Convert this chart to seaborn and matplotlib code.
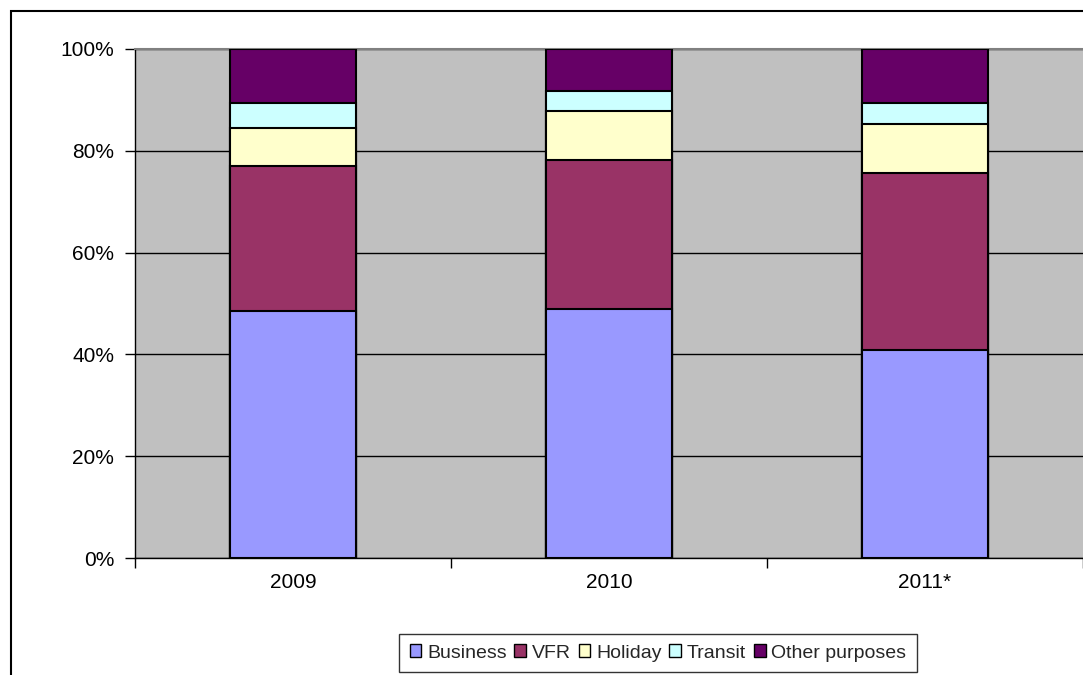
import numpy as np
import pandas as pd
import seaborn as sns
import matplotlib.pyplot as plt
from matplotlib.patches import Patch, Rectangle
from matplotlib.ticker import PercentFormatter, FixedLocator

# Data (shares of visitors by purpose)
years = ["2009", "2010", "2011*"]
purposes = ["Business", "VFR", "Holiday", "Transit", "Other purposes"]
business = [48.5, 48.9, 40.9]
vfr = [28.5, 29.2, 34.8]
holiday = [7.4, 9.8, 9.6]
transit = [4.9, 3.9, 4.0]
other = [10.7, 8.2, 10.7]

colors = ["#9999FF", "#993366", "#FFFFCC", "#CCFFFF", "#660066"]

df = pd.DataFrame(
    {"Business": business, "VFR": vfr, "Holiday": holiday,
     "Transit": transit, "Other purposes": other},
    index=years,
)
shares = df.div(df.sum(axis=1), axis=0)
cum = shares.cumsum(axis=1)

sns.set_style("white")
plt.rcParams["font.family"] = ["Liberation Sans", "DejaVu Sans"]

fig = plt.figure(figsize=(10.83, 6.75), dpi=100)
ax = fig.add_axes([135 / 1083, 1 - 558 / 675, 1 - 135 / 1083, (558 - 49) / 675])
ax.set_facecolor("#C0C0C0")

# stacked bars: draw cumulative totals from the top segment down
for col, color in reversed(list(zip(purposes, colors))):
    sns.barplot(x=cum.index, y=cum[col].values, color=color, width=0.4,
                edgecolor="black", linewidth=1.5, saturation=1, ax=ax, zorder=3)

ax.set_ylim(0, 1)
ax.set_xlim(-0.5, 2.5)
ax.yaxis.set_major_locator(FixedLocator(np.arange(0, 1.01, 0.2)))
ax.yaxis.set_major_formatter(PercentFormatter(1.0, decimals=0))
ax.yaxis.grid(True, color="black", linewidth=1, zorder=1)
ax.set_axisbelow(True)

ax.xaxis.set_minor_locator(FixedLocator([-0.5, 0.5, 1.5, 2.5]))
ax.tick_params(axis="x", which="major", bottom=True, length=0, pad=11,
               labelsize=15, labelcolor="black")
ax.tick_params(axis="x", which="minor", bottom=True, length=7, width=1,
               color="black", direction="out")
ax.tick_params(axis="y", left=True, length=7, width=1, color="black",
               direction="out", pad=8, labelsize=15, labelcolor="black")
ax.set_xlabel("")
ax.set_ylabel("")

for s in ["left", "bottom"]:
    ax.spines[s].set_color("black")
    ax.spines[s].set_linewidth(1)
ax.spines["top"].set_color("#808080")
ax.spines["top"].set_linewidth(1.5)
ax.spines["right"].set_visible(False)

handles = [Patch(facecolor=c, edgecolor="black", linewidth=1) for c in colors]
leg = fig.legend(handles, purposes, loc="center", bbox_to_anchor=(658 / 1083, 1 - 653 / 675),
                 ncol=5, frameon=True, fancybox=False, fontsize=14,
                 handlelength=0.6, handleheight=0.6, handletextpad=0.3,
                 columnspacing=0.4, borderpad=0.55, borderaxespad=0)
leg.get_frame().set_edgecolor("black")
leg.get_frame().set_linewidth(1)

# outer chart frame (cut off at right and bottom)
fig.patches.append(Rectangle((11 / 1083, -0.1), 1.2, 1.1 - 11 / 675,
                             transform=fig.transFigure, fill=False,
                             edgecolor="black", linewidth=1.5))

fig.savefig("out.png", dpi=100)
